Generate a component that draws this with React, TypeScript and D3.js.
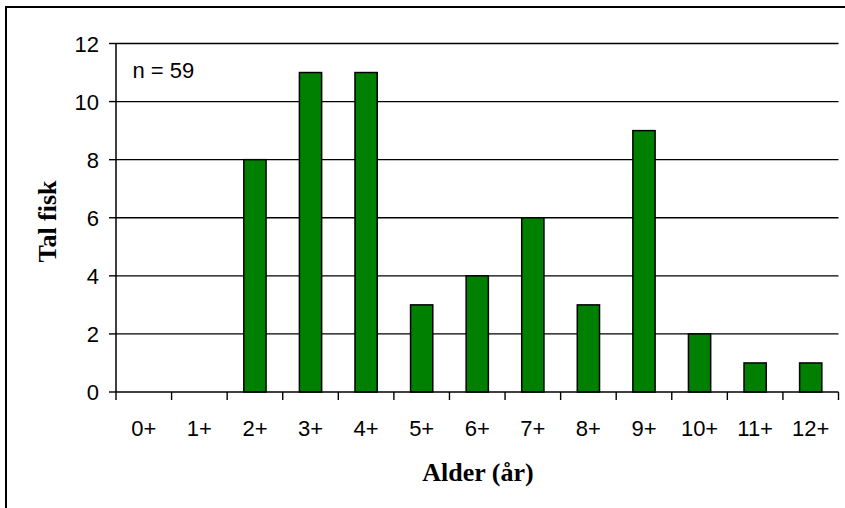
import React from "react";
import * as d3 from "d3";

const categories = ["0+", "1+", "2+", "3+", "4+", "5+", "6+", "7+", "8+", "9+", "10+", "11+", "12+"];
const values = [0, 0, 8, 11, 11, 3, 4, 6, 3, 9, 2, 1, 1];
const yTicks = [0, 2, 4, 6, 8, 10, 12];

export default function App() {
  const W = 845, H = 508;
  const left = 116, right = 838.5, top = 43.5, bottom = 392;
  const x = d3.scaleBand().domain(categories).range([left, right]).paddingInner(0.6).paddingOuter(0.3);
  const xb = d3.scaleBand().domain(categories).range([left, right]);
  const y = d3.scaleLinear().domain([0, 12]).range([bottom, top]);
  const sans = "Liberation Sans, Arial, sans-serif";
  const serif = "Liberation Serif, Times New Roman, serif";
  return (
    <svg width={W} height={H} style={{ position: "absolute", left: 0, top: 0 }}>
      <rect x={0} y={0} width={W} height={H} fill="#fff" />
      <rect x={6} y={7} width={W + 10} height={H + 10} fill="none" stroke="#000" strokeWidth={2} />
      {yTicks.map((t) => (
        <g key={t}>
          {t > 0 && <line x1={left} x2={right} y1={y(t)} y2={y(t)} stroke="#000" strokeWidth={1.4} />}
          <line x1={left - 7} x2={left} y1={y(t)} y2={y(t)} stroke="#000" strokeWidth={1.4} />
          <text x={99} y={y(t) + 8} textAnchor="end" fontFamily={sans} fontSize={22}>{t}</text>
        </g>
      ))}
      {categories.map((c, i) => (
        <rect key={c} x={x(c)} y={y(values[i])} width={x.bandwidth()} height={bottom - y(values[i])}
          fill="#008000" stroke="#000" strokeWidth={1.5} style={{ display: values[i] > 0 ? undefined : "none" }} />
      ))}
      <line x1={left} x2={left} y1={top} y2={bottom} stroke="#000" strokeWidth={1.5} />
      <line x1={left} x2={right} y1={bottom} y2={bottom} stroke="#000" strokeWidth={1.5} />
      {[...categories.map((c) => xb(c)!), right].map((v, i) => (
        <line key={i} x1={v} x2={v} y1={bottom} y2={bottom + 8} stroke="#000" strokeWidth={1.4} />
      ))}
      {categories.map((c) => (
        <text key={c} x={xb(c)! + xb.bandwidth() / 2} y={436} textAnchor="middle" fontFamily={sans} fontSize={22}>{c}</text>
      ))}
      <text x={132.5} y={78} fontFamily={sans} fontSize={22}>n = 59</text>
      <text x={478} y={481} textAnchor="middle" fontFamily={serif} fontWeight="bold" fontSize={26}>Alder (år)</text>
      <text transform={`translate(56,221.5) rotate(-90)`} textAnchor="middle" fontFamily={serif} fontWeight="bold" fontSize={26}>Tal fisk</text>
    </svg>
  );
}
